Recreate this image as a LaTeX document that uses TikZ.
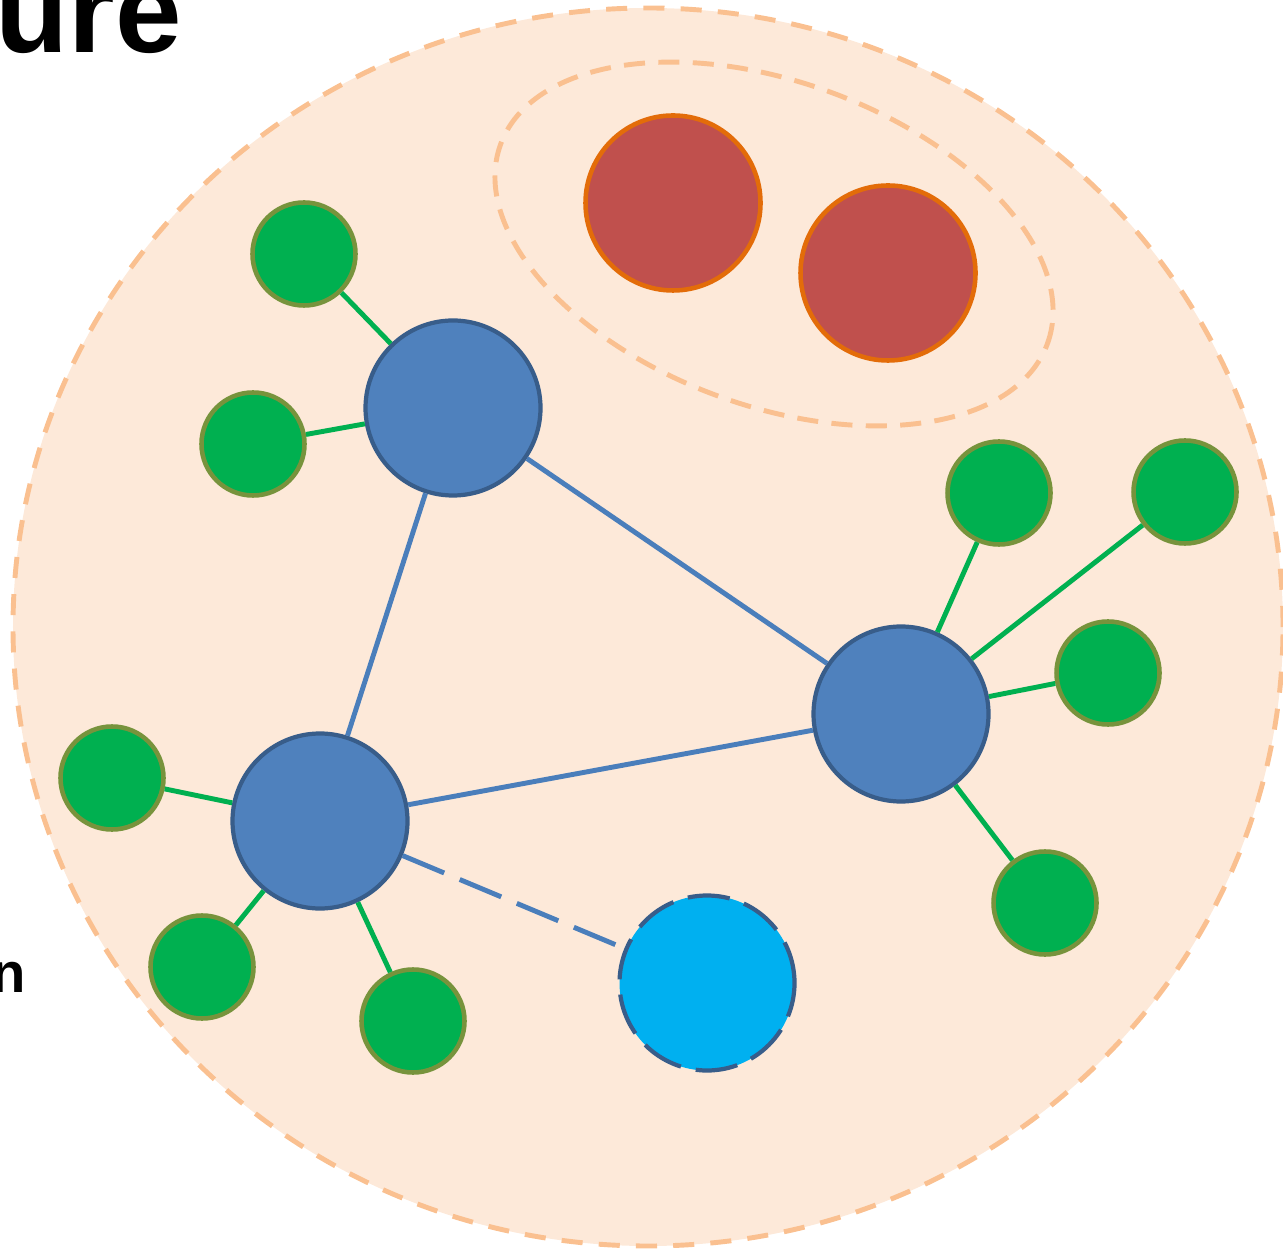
\documentclass[tikz,border=0pt]{standalone}
\usepackage{fontspec}
\setmainfont{Liberation Sans}
\usepackage{tikz}

\definecolor{peach}{HTML}{FDE9D9}
\definecolor{peachline}{HTML}{FAC090}
\definecolor{hubfill}{HTML}{4F81BD}
\definecolor{hubline}{HTML}{385D8A}
\definecolor{edgeblue}{HTML}{4A7EBB}
\definecolor{leaffill}{HTML}{00B050}
\definecolor{leafline}{HTML}{77933C}
\definecolor{corefill}{HTML}{C0504D}
\definecolor{coreline}{HTML}{E36C09}
\definecolor{newfill}{HTML}{00B0F0}

\tikzset{
	hub/.style={circle, draw=hubline, fill=hubfill, line width=1.2pt, minimum size=1.75cm, inner sep=0pt},
	leaf/.style={circle, draw=leafline, fill=leaffill, line width=1.3pt, minimum size=1.03cm, inner sep=0pt},
	core/.style={circle, draw=coreline, fill=corefill, line width=1.3pt, minimum size=1.75cm, inner sep=0pt},
	newcomer/.style={circle, draw=hubline, fill=newfill, line width=1.2pt, dash pattern=on 12pt off 4.3pt, minimum size=1.75cm, inner sep=0pt},
	leafedge/.style={draw=leaffill, line width=1.4pt},
	hubedge/.style={draw=edgeblue, line width=1.4pt},
	border/.style={draw=peachline, line width=1.4pt}
}

\begin{document}
\begin{tikzpicture}
		
		\clip (0,0) rectangle (12.83,12.5);
		\useasboundingbox (0,0) rectangle (12.83,12.5);
		
		% Outer group
		\draw[border, fill=peach, dash pattern=on 6pt off 4.6pt] (6.48,6.23) ellipse [x radius=6.35cm, y radius=6.19cm];
		
		% Inner group
		\draw[border, dash pattern=on 6pt off 3.8pt] (7.74,10.06) ellipse [x radius=2.91cm, y radius=1.62cm, rotate=-20];
		
		% Title fragments
		\node [anchor=base west, inner sep=0pt, font=\fontsize{34}{40}\selectfont\bfseries] (title) at (-0.05,11.97) {ure};
		\node [anchor=base east, inner sep=0pt, font=\fontsize{16}{18}\selectfont\bfseries] (label) at (0.27,2.58) {n};
		
		% Core nodes
		\node [core] (red1) at (6.73,10.47) {};
		\node [core] (red2) at (8.88,9.77) {};
		
		% Hub nodes
		\node [hub] (hubA) at (4.53,8.42) {};
		\node [hub] (hubB) at (9.01,5.36) {};
		\node [hub] (hubC) at (3.20,4.29) {};
		
		% New node
		\node [newcomer] (newnode) at (7.07,2.67) {};
		
		% Leaf nodes
		\node [leaf] (leafA1) at (3.04,9.96) {};
		\node [leaf] (leafA2) at (2.53,8.06) {};
		
		\node [leaf] (leafB1) at (9.99,7.57) {};
		\node [leaf] (leafB2) at (11.85,7.58) {};
		\node [leaf] (leafB3) at (11.08,5.77) {};
		\node [leaf] (leafB4) at (10.45,3.47) {};
		
		\node [leaf] (leafC1) at (1.12,4.72) {};
		\node [leaf] (leafC2) at (2.02,2.83) {};
		\node [leaf] (leafC3) at (4.13,2.29) {};
		
		% Links between hubs
		\draw[hubedge] (hubA) -- (hubB);
		\draw[hubedge] (hubA) -- (hubC);
		\draw[hubedge] (hubC) -- (hubB);
		\draw[hubedge, dash pattern=on 12.8pt off 4.8pt] (hubC) -- (newnode);
		
		% Links to leaves
		\draw[leafedge] (hubA) -- (leafA1);
		\draw[leafedge] (hubA) -- (leafA2);
		
		\draw[leafedge] (hubB) -- (leafB1);
		\draw[leafedge] (hubB) -- (leafB2);
		\draw[leafedge] (hubB) -- (leafB3);
		\draw[leafedge] (hubB) -- (leafB4);
		
		\draw[leafedge] (hubC) -- (leafC1);
		\draw[leafedge] (hubC) -- (leafC2);
		\draw[leafedge] (hubC) -- (leafC3);
		
\end{tikzpicture}
\end{document}
